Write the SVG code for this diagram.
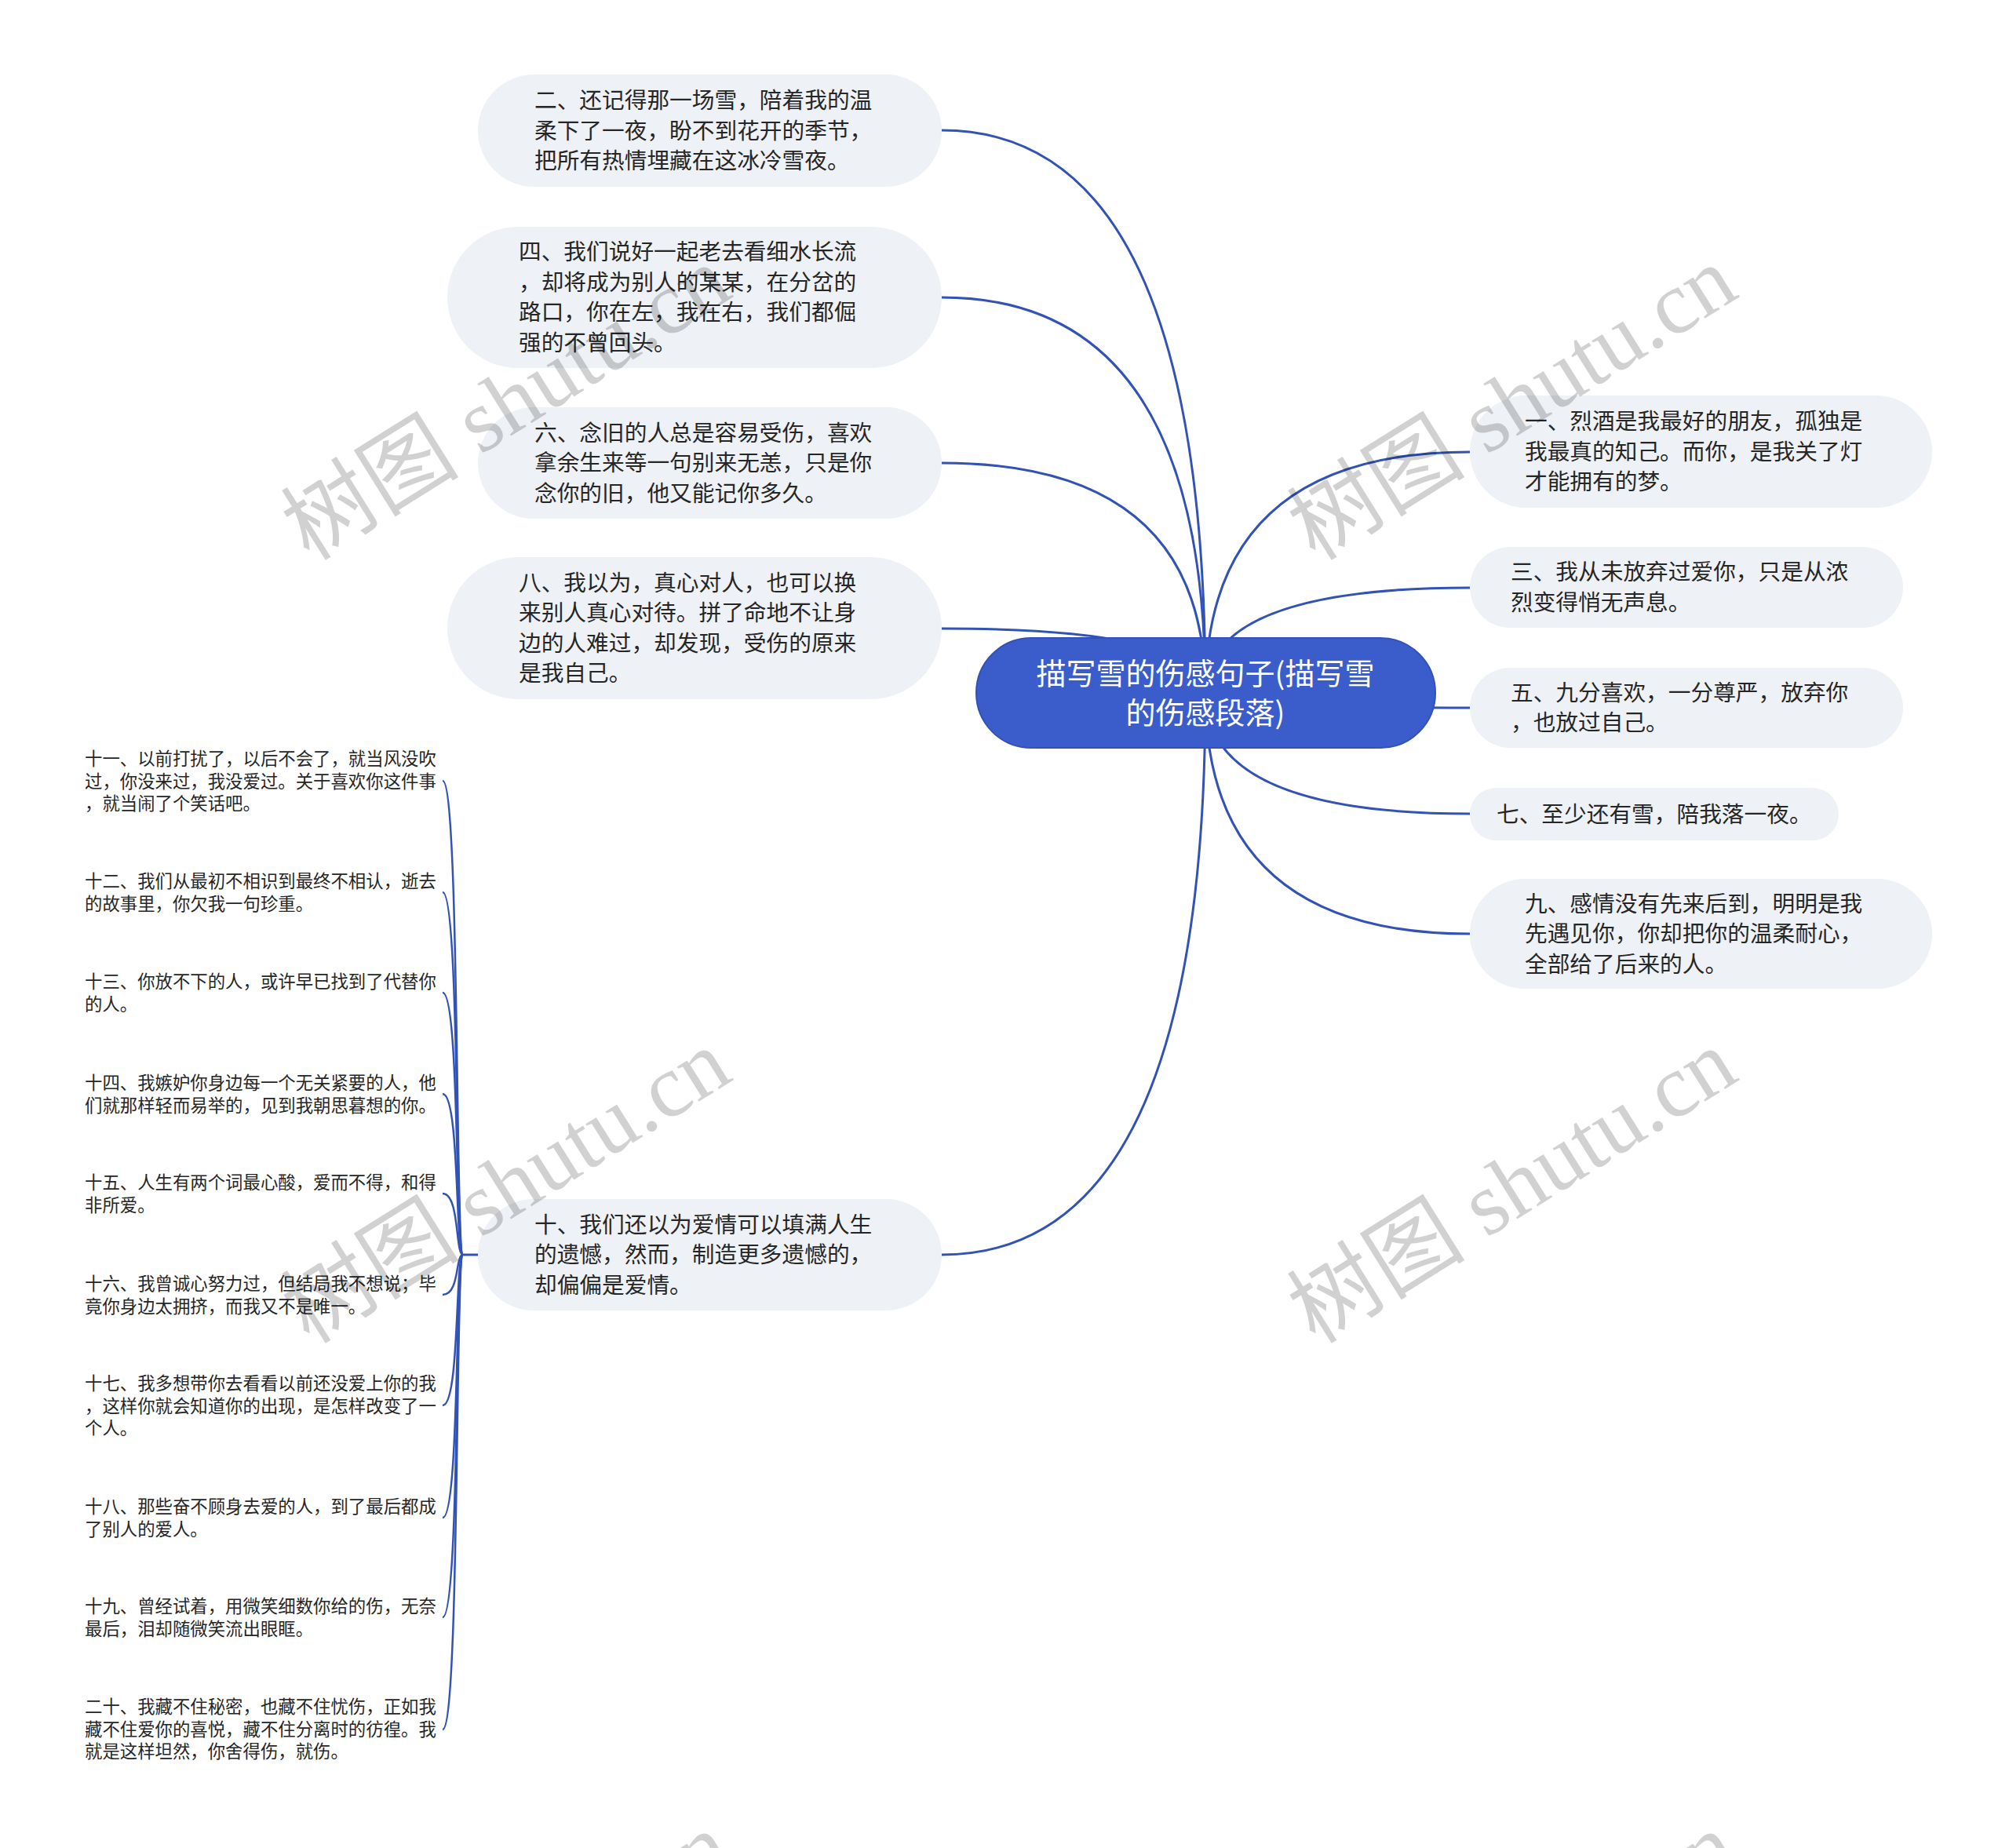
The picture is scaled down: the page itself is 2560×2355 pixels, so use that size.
<svg xmlns="http://www.w3.org/2000/svg" width="2560" height="2355" viewBox="0 0 2560 2355">
<style>
.bg{fill:#ffffff}
.node{fill:#eef1f5}
.root{fill:#3b5dcb;stroke:#3352b8;stroke-width:2}
.t{font-family:"Noto Sans CJK SC","Noto Sans",sans-serif;font-size:28.7px;fill:#262626}
.lt{font-family:"Noto Sans CJK SC","Noto Sans",sans-serif;font-size:22.4px;fill:#262626}
.rt{font-family:"Noto Sans CJK SC","Noto Sans",sans-serif;font-size:38px;fill:#ffffff;text-anchor:middle}
.c{fill:none;stroke:#3253b5;stroke-width:3}
.lc{fill:none;stroke:#3253b5;stroke-width:2.5}
.wm{font-family:"Liberation Serif","Noto Sans CJK SC",serif;font-size:114px;fill:#000;fill-opacity:0.18;text-anchor:middle;dominant-baseline:central}
</style>
<rect class="bg" x="0" y="0" width="2560" height="2355"/>
<g id="connectors">
<path class="c" d="M1536,883 Q1536,166 1200,166"/>
<path class="c" d="M1536,883 Q1536,379 1200,379"/>
<path class="c" d="M1536,883 Q1536,590 1200,590"/>
<path class="c" d="M1536,883 Q1536,801 1200,801"/>
<path class="c" d="M1536,883 Q1536,1599 1200,1599"/>
<path class="c" d="M1536,883 Q1536,576 1873,576"/>
<path class="c" d="M1536,883 Q1536,749 1873,749"/>
<path class="c" d="M1536,883 Q1536,902 1873,902"/>
<path class="c" d="M1536,883 Q1536,1037 1873,1037"/>
<path class="c" d="M1536,883 Q1536,1190 1873,1190"/>
<path class="c" d="M609,1599 L588,1599"/>
<path class="lc" d="M590,1599 C580,1599 586,995 564,995"/>
<path class="lc" d="M590,1599 C580,1599 586,1137 564,1137"/>
<path class="lc" d="M590,1599 C580,1599 586,1265 564,1265"/>
<path class="lc" d="M590,1599 C580,1599 586,1394 564,1394"/>
<path class="lc" d="M590,1599 C580,1599 586,1521 564,1521"/>
<path class="lc" d="M590,1599 C580,1599 586,1650 564,1650"/>
<path class="lc" d="M590,1599 C580,1599 586,1791 564,1791"/>
<path class="lc" d="M590,1599 C580,1599 586,1934 564,1934"/>
<path class="lc" d="M590,1599 C580,1599 586,2061 564,2061"/>
<path class="lc" d="M590,1599 C580,1599 586,2204 564,2204"/>
</g>
<g id="root">
<rect class="root" x="1244" y="813" width="585" height="140" rx="70"/>
<text class="rt" x="1536" y="872">描写雪的伤感句子(描写雪</text>
<text class="rt" x="1536" y="922">的伤感段落)</text>
</g>
<g id="n2">
<rect class="node" x="609" y="95" width="591" height="143" rx="71.5"/>
<text class="t" x="681" y="138">二、还记得那一场雪，陪着我的温</text>
<text class="t" x="681" y="176.5">柔下了一夜，盼不到花开的季节，</text>
<text class="t" x="681" y="215">把所有热情埋藏在这冰冷雪夜。</text>
</g>
<g id="n4">
<rect class="node" x="570" y="289" width="630" height="180" rx="90"/>
<text class="t" x="661" y="331">四、我们说好一起老去看细水长流</text>
<text class="t" x="661" y="369.5">，却将成为别人的某某，在分岔的</text>
<text class="t" x="661" y="408">路口，你在左，我在右，我们都倔</text>
<text class="t" x="661" y="446.5">强的不曾回头。</text>
</g>
<g id="n6">
<rect class="node" x="609" y="519" width="591" height="142" rx="71"/>
<text class="t" x="681" y="561.5">六、念旧的人总是容易受伤，喜欢</text>
<text class="t" x="681" y="600">拿余生来等一句别来无恙，只是你</text>
<text class="t" x="681" y="638.5">念你的旧，他又能记你多久。</text>
</g>
<g id="n8">
<rect class="node" x="570" y="710" width="630" height="181" rx="90.5"/>
<text class="t" x="661" y="752.5">八、我以为，真心对人，也可以换</text>
<text class="t" x="661" y="791">来别人真心对待。拼了命地不让身</text>
<text class="t" x="661" y="829.5">边的人难过，却发现，受伤的原来</text>
<text class="t" x="661" y="868">是我自己。</text>
</g>
<g id="n10">
<rect class="node" x="609" y="1528" width="591" height="142" rx="71"/>
<text class="t" x="681" y="1570.5">十、我们还以为爱情可以填满人生</text>
<text class="t" x="681" y="1609">的遗憾，然而，制造更多遗憾的，</text>
<text class="t" x="681" y="1647.5">却偏偏是爱情。</text>
</g>
<g id="n1">
<rect class="node" x="1873" y="504" width="589" height="143" rx="71.5"/>
<text class="t" x="1943" y="547">一、烈酒是我最好的朋友，孤独是</text>
<text class="t" x="1943" y="585.5">我最真的知己。而你，是我关了灯</text>
<text class="t" x="1943" y="624">才能拥有的梦。</text>
</g>
<g id="n3">
<rect class="node" x="1873" y="697" width="552" height="103" rx="51.5"/>
<text class="t" x="1925" y="739">三、我从未放弃过爱你，只是从浓</text>
<text class="t" x="1925" y="777.5">烈变得悄无声息。</text>
</g>
<g id="n5">
<rect class="node" x="1873" y="851" width="552" height="102" rx="51"/>
<text class="t" x="1925" y="892.5">五、九分喜欢，一分尊严，放弃你</text>
<text class="t" x="1925" y="931">，也放过自己。</text>
</g>
<g id="n7">
<rect class="node" x="1873" y="1004" width="470" height="67" rx="33.5"/>
<text class="t" x="1907" y="1047.5">七、至少还有雪，陪我落一夜。</text>
</g>
<g id="n9">
<rect class="node" x="1873" y="1120" width="589" height="140" rx="70"/>
<text class="t" x="1943" y="1161.5">九、感情没有先来后到，明明是我</text>
<text class="t" x="1943" y="1200">先遇见你，你却把你的温柔耐心，</text>
<text class="t" x="1943" y="1238.5">全部给了后来的人。</text>
</g>
<g id="n11">
<text class="lt" x="108" y="975">十一、以前打扰了，以后不会了，就当风没吹</text>
<text class="lt" x="108" y="1003.5">过，你没来过，我没爱过。关于喜欢你这件事</text>
<text class="lt" x="108" y="1032">，就当闹了个笑话吧。</text>
</g>
<g id="n12">
<text class="lt" x="108" y="1131">十二、我们从最初不相识到最终不相认，逝去</text>
<text class="lt" x="108" y="1159.5">的故事里，你欠我一句珍重。</text>
</g>
<g id="n13">
<text class="lt" x="108" y="1259">十三、你放不下的人，或许早已找到了代替你</text>
<text class="lt" x="108" y="1287.5">的人。</text>
</g>
<g id="n14">
<text class="lt" x="108" y="1388">十四、我嫉妒你身边每一个无关紧要的人，他</text>
<text class="lt" x="108" y="1416.5">们就那样轻而易举的，见到我朝思暮想的你。</text>
</g>
<g id="n15">
<text class="lt" x="108" y="1515">十五、人生有两个词最心酸，爱而不得，和得</text>
<text class="lt" x="108" y="1543.5">非所爱。</text>
</g>
<g id="n16">
<text class="lt" x="108" y="1644">十六、我曾诚心努力过，但结局我不想说；毕</text>
<text class="lt" x="108" y="1672.5">竟你身边太拥挤，而我又不是唯一。</text>
</g>
<g id="n17">
<text class="lt" x="108" y="1771">十七、我多想带你去看看以前还没爱上你的我</text>
<text class="lt" x="108" y="1799.5">，这样你就会知道你的出现，是怎样改变了一</text>
<text class="lt" x="108" y="1828">个人。</text>
</g>
<g id="n18">
<text class="lt" x="108" y="1928">十八、那些奋不顾身去爱的人，到了最后都成</text>
<text class="lt" x="108" y="1956.5">了别人的爱人。</text>
</g>
<g id="n19">
<text class="lt" x="108" y="2055">十九、曾经试着，用微笑细数你给的伤，无奈</text>
<text class="lt" x="108" y="2083.5">最后，泪却随微笑流出眼眶。</text>
</g>
<g id="n20">
<text class="lt" x="108" y="2183">二十、我藏不住秘密，也藏不住忧伤，正如我</text>
<text class="lt" x="108" y="2211.5">藏不住爱你的喜悦，藏不住分离时的彷徨。我</text>
<text class="lt" x="108" y="2240">就是这样坦然，你舍得伤，就伤。</text>
</g>
<g id="watermarks">
<text class="wm" transform="translate(645,514) rotate(-32)">树图 shutu.cn</text>
<text class="wm" transform="translate(1927,514) rotate(-32)">树图 shutu.cn</text>
<text class="wm" transform="translate(645,1512) rotate(-32)">树图 shutu.cn</text>
<text class="wm" transform="translate(1927,1512) rotate(-32)">树图 shutu.cn</text>
<text class="wm" transform="translate(645,2510) rotate(-32)">树图 shutu.cn</text>
<text class="wm" transform="translate(1927,2510) rotate(-32)">树图 shutu.cn</text>
</g>
</svg>
